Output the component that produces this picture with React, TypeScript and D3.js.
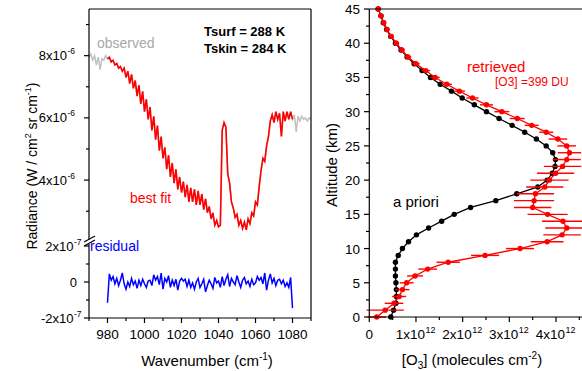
import React from 'react';
import * as d3 from 'd3';

const FONT = '"Liberation Sans", Arial, sans-serif';

// ---- left panel: spectrum (radiance in 1e-6 W/cm2 sr cm-1) ----
const wavenumber = d3.range(970, 1091);
const radiance = [
  7.95, 8.05, 7.85, 8.0, 7.7, 7.95, 7.55, 7.9, 7.85, 8.0,
  7.9, 7.95, 7.8, 7.85, 7.7, 7.75, 7.6, 7.65, 7.5, 7.6,
  7.3, 7.5, 7.1, 7.4, 6.95, 7.2, 6.7, 7.05, 6.45, 6.85,
  6.2, 6.6, 5.95, 6.35, 5.6, 6.05, 5.3, 5.75, 4.95, 5.4,
  4.7, 5.05, 4.35, 4.8, 4.1, 4.55, 3.9, 4.35, 3.7, 4.1,
  3.6, 3.95, 3.45, 3.85, 3.3, 3.75, 3.3, 3.7, 3.2, 3.65,
  3.2, 3.55, 3.05, 3.4, 2.95, 3.15, 2.75, 2.95, 2.55, 2.7,
  2.5, 2.55, 5.6, 5.85, 5.7, 4.2, 3.9, 3.3, 3.1, 2.8,
  2.9, 2.55, 2.7, 2.45, 2.65, 2.4, 2.75, 2.6, 2.95, 2.85,
  3.3, 3.2, 3.8, 4.3, 4.7, 4.6, 5.1, 5.4, 5.9, 6.1,
  5.85, 6.2, 5.95, 6.15, 5.4, 6.2, 5.9, 6.2, 5.95, 6.2,
  5.95, 6.1, 5.55, 6.05, 5.9, 6.05, 5.95, 6.0, 5.9, 6.0,
  5.95,
];
const fitRange = [980, 1080];

// residual in 1e-7 units
const residualWn = d3.range(980, 1081);
const residual = [
  -1.15, 0.45, 0.1, 0.3, -0.1, 0.2, -0.2, 0.1, 0.5, -0.1,
  -0.4, 0.0, -0.25, 0.2, -0.15, 0.05, -0.35, 0.1, -0.2, 0.15,
  -0.1, -0.3, 0.05, 0.1, -0.2, 0.4, 0.1, 0.3, -0.15, 0.5,
  -0.4, 0.2, 0.0, 0.35, -0.3, 0.1, -0.2, 0.15, -0.45, 0.05,
  0.2, 0.05, 0.15, -0.25, 0.1, -0.3, -0.05, -0.4, 0.0, 0.2,
  -0.3, -0.1, 0.15, -0.55, -0.2, 0.1, -0.1, -0.35, 0.25, -0.05,
  0.05, -0.3, 0.3, -0.2, 0.15, 0.4, -0.25, 0.2, 0.0, -0.15,
  0.35, 0.0, -0.3, 0.1, 0.25, -0.1, 0.05, -0.25, 0.15, -0.15,
  -0.05, 0.3, 0.1, 0.25, -0.1, 0.5, -0.45, 0.1, 0.45, -0.05,
  0.2, -0.2, 0.1, 0.15, -0.1, 0.1, -0.25, -0.05, -0.3, 0.25,
  -1.45,
];

const wnTicks = [980, 1000, 1020, 1040, 1060, 1080];
const wnMinor = [970, 990, 1010, 1030, 1050, 1070, 1090];
const radTicks = [4, 6, 8];
const radMinor = [3, 5, 7, 9];
const resTicks = [-2, 0, 2];
const resMinor = [-1, 1];

// ---- right panel: ozone profile (1e12 molecules cm-2) ----
const altitude = [
  0, 1, 2, 3, 4, 5, 6, 7, 8, 9, 10, 11, 12, 13, 14, 15, 16, 17, 18, 19, 20, 21, 22,
  23, 24, 25, 26, 27, 28, 29, 30, 31, 32, 33, 34, 35, 36, 37, 38, 39, 40, 41, 42, 43, 44, 45,
];
const apriori = [
  0.46, 0.52, 0.57, 0.58, 0.58, 0.57, 0.56, 0.56, 0.56, 0.62,
  0.71, 0.84, 1.01, 1.27, 1.55, 1.82, 2.17, 2.71, 3.16, 3.61,
  3.81, 3.92, 3.98, 3.99, 3.93, 3.79, 3.58, 3.33, 3.06, 2.78,
  2.51, 2.25, 1.99, 1.76, 1.52, 1.31, 1.13, 0.96, 0.81, 0.68,
  0.56, 0.46, 0.37, 0.30, 0.25, 0.19,
];
const retrieved = [
  0.16, 0.34, 0.53, 0.64, 0.71, 0.80, 0.98, 1.25, 1.69, 2.48,
  3.23, 3.81, 4.13, 4.23, 4.15, 3.82, 3.50, 3.53, 3.56, 3.76,
  3.86, 3.99, 4.14, 4.23, 4.29, 4.23, 4.04, 3.79, 3.48, 3.17,
  2.84, 2.51, 2.21, 1.93, 1.66, 1.41, 1.21, 1.00, 0.83, 0.70,
  0.58, 0.47, 0.38, 0.31, 0.25, 0.19,
];
const retrievedErr = [
  0.2, 0.4, 0.2, 0.15, 0.15, 0.15, 0.17, 0.2, 0.25, 0.3,
  0.3, 0.35, 0.4, 0.46, 0.45, 0.43, 0.4, 0.43, 0.4, 0.4,
  0.41, 0.4, 0.4, 0.3, 0.25, 0.2, 0.2, 0.15, 0.15, 0.16,
  0.16, 0.14, 0.13, 0.12, 0.11, 0.1, 0.09, 0.08, 0.07, 0.06,
  0.06, 0.05, 0.05, 0.04, 0.04, 0.03,
];
const altTicks = [0, 5, 10, 15, 20, 25, 30, 35, 40, 45];
const altMinor = [2.5, 7.5, 12.5, 17.5, 22.5, 27.5, 32.5, 37.5, 42.5];
const o3Ticks = [0, 1, 2, 3, 4];
const o3Minor = [0.5, 1.5, 2.5, 3.5, 4.5];

// "m x10^e" label: mantissa ends at xEnd, exponent starts right after it
const Sci = ({ xEnd, y, m, e, size = 13, supSize = 8.5 }: any) => (
  <g fontFamily={FONT} fill="#000">
    <text x={xEnd} y={y} textAnchor="end" fontSize={size}>{`${m}x10`}</text>
    <text x={xEnd + 0.5} y={y - 6} textAnchor="start" fontSize={supSize}>{e}</text>
  </g>
);

export default function App() {
  // left panel scales
  const xL = d3.scaleLinear().domain([970, 1090]).range([89, 311]);
  const yTop = d3.scaleLinear().domain([2.0, 9.5]).range([242.3, 9]);
  const yRes = d3.scaleLinear().domain([-2, 2]).range([318, 246]);

  // right panel scales
  const xR = d3.scaleLinear().domain([0, 4.6]).range([369.3, 584]);
  const yR = d3.scaleLinear().domain([0, 45]).range([317, 9]);

  const specLine = d3.line<number>().x((_, i) => xL(wavenumber[i])).y((d) => yTop(d));
  const fitIdx = wavenumber.map((w, i) => i).filter((i) => wavenumber[i] >= fitRange[0] && wavenumber[i] <= fitRange[1]);
  const fitLine = d3.line<number>().x((i) => xL(wavenumber[i])).y((i) => yTop(radiance[i]));
  const resLine = d3.line<number>().x((_, i) => xL(residualWn[i])).y((d) => yRes(d));

  const profLine = (vals: number[]) =>
    d3.line<number>().x((d) => xR(d)).y((_, i) => yR(altitude[i]))(vals) || '';

  const axisStroke = { stroke: '#000', strokeWidth: 1.2 };
  const bottomL = 318;
  const bottomR = yR(0);

  return (
    <svg width={582} height={371} style={{ position: 'absolute', left: 0, top: 0, background: '#fff' }}>
      <rect width={582} height={371} fill="#fff" />

      {/* ===== LEFT PANEL ===== */}
      <path d={specLine(radiance) || ''} fill="none" stroke="#c0c0c0" strokeWidth={1.5} />
      <path d={fitLine(fitIdx) || ''} fill="none" stroke="#ff0000" strokeWidth={1.6} />
      <path d={resLine(residual) || ''} fill="none" stroke="#0000ff" strokeWidth={1.5} />

      {/* frame */}
      <line x1={89} x2={311} y1={9} y2={9} {...axisStroke} />
      <line x1={311} x2={311} y1={9} y2={bottomL} {...axisStroke} />
      <line x1={89} x2={311} y1={bottomL} y2={bottomL} {...axisStroke} />
      <line x1={89} x2={89} y1={9} y2={239.5} {...axisStroke} />
      <line x1={89} x2={89} y1={244} y2={bottomL} {...axisStroke} />
      {/* axis break */}
      <line x1={84} x2={95} y1={242} y2={236} {...axisStroke} />
      <line x1={84} x2={95} y1={246} y2={240} {...axisStroke} />

      {/* x ticks */}
      {wnTicks.map((t) => (
        <g key={t}>
          <line x1={xL(t)} x2={xL(t)} y1={bottomL} y2={bottomL + 5} {...axisStroke} />
          <text x={xL(t)} y={339} textAnchor="middle" fontSize={13.5} fontFamily={FONT}>{t}</text>
        </g>
      ))}
      {wnMinor.map((t) => (
        <line key={t} x1={xL(t)} x2={xL(t)} y1={bottomL} y2={bottomL + 3} {...axisStroke} />
      ))}

      {/* upper y ticks */}
      {radTicks.map((t) => (
        <g key={t}>
          <line x1={84} x2={89} y1={yTop(t)} y2={yTop(t)} {...axisStroke} />
          <Sci xEnd={67} y={yTop(t) + 4.5} m={String(t)} e="-6" />
        </g>
      ))}
      {radMinor.map((t) => (
        <line key={t} x1={86} x2={89} y1={yTop(t)} y2={yTop(t)} {...axisStroke} />
      ))}
      {/* residual y ticks */}
      {resTicks.map((t) => (
        <g key={t}>
          <line x1={84} x2={89} y1={yRes(t)} y2={yRes(t)} {...axisStroke} />
          {t === 0 ? (
            <text x={77} y={yRes(t) + 4.5} textAnchor="end" fontSize={13} fontFamily={FONT}>0</text>
          ) : (
            <Sci xEnd={73.5} y={yRes(t) + 4.5} m={String(t)} e="-7" />
          )}
        </g>
      ))}
      {resMinor.map((t) => (
        <line key={t} x1={86} x2={89} y1={yRes(t)} y2={yRes(t)} {...axisStroke} />
      ))}

      {/* left labels */}
      <text x={97} y={48} fontSize={14} fontFamily={FONT} fill="#a8a8a8">observed</text>
      <text x={204} y={36} fontSize={13} fontWeight="bold" fontFamily={FONT}>Tsurf = 288 K</text>
      <text x={204} y={53} fontSize={13} fontWeight="bold" fontFamily={FONT}>Tskin = 284 K</text>
      <text x={130} y={203} fontSize={14} fontFamily={FONT} fill="#ff0000">best fit</text>
      <text x={90} y={251} fontSize={14} fontFamily={FONT} fill="#0000ff">residual</text>

      <text
        transform="translate(37,166) rotate(-90)"
        textAnchor="middle"
        fontSize={14}
        fontFamily={FONT}
      >
        Radiance (W / cm<tspan dy={-6} fontSize={9}>2</tspan>
        <tspan dy={6}> sr cm</tspan>
        <tspan dy={-6} fontSize={9}>-1</tspan>
        <tspan dy={6}>)</tspan>
      </text>
      <text x={207} y={366} textAnchor="middle" fontSize={15} fontFamily={FONT}>
        Wavenumber (cm<tspan dy={-6} fontSize={10}>-1</tspan>
        <tspan dy={6}>)</tspan>
      </text>

      {/* ===== RIGHT PANEL ===== */}
      {/* a priori */}
      <path d={profLine(apriori)} fill="none" stroke="#000" strokeWidth={1.3} />
      {apriori.map((v, i) => (
        <circle key={`a${i}`} cx={xR(v)} cy={yR(altitude[i])} r={2.7} fill="#000" />
      ))}
      {/* retrieved */}
      {retrieved.map((v, i) => (
        <line
          key={`e${i}`}
          x1={xR(v - retrievedErr[i])}
          x2={xR(v + retrievedErr[i])}
          y1={yR(altitude[i])}
          y2={yR(altitude[i])}
          stroke="#ff0000"
          strokeWidth={1.4}
        />
      ))}
      <path d={profLine(retrieved)} fill="none" stroke="#ff0000" strokeWidth={1.3} />
      {retrieved.map((v, i) => (
        <circle key={`r${i}`} cx={xR(v)} cy={yR(altitude[i])} r={2.7} fill="#ff0000" />
      ))}

      {/* frame */}
      <line x1={369.3} x2={582} y1={9} y2={9} {...axisStroke} />
      <line x1={369.3} x2={369.3} y1={9} y2={bottomR} {...axisStroke} />
      <line x1={369.3} x2={582} y1={bottomR} y2={bottomR} {...axisStroke} />

      {altTicks.map((t) => (
        <g key={t}>
          <line x1={364} x2={369.3} y1={yR(t)} y2={yR(t)} {...axisStroke} />
          <text x={360} y={yR(t) + 5} textAnchor="end" fontSize={13.5} fontFamily={FONT}>{t}</text>
        </g>
      ))}
      {altMinor.map((t) => (
        <line key={t} x1={366} x2={369.3} y1={yR(t)} y2={yR(t)} {...axisStroke} />
      ))}
      {o3Ticks.map((t) => (
        <g key={t}>
          <line x1={xR(t)} x2={xR(t)} y1={bottomR} y2={bottomR + 5} {...axisStroke} />
          {t === 0 ? (
            <text x={xR(t)} y={339} textAnchor="middle" fontSize={13.5} fontFamily={FONT}>0</text>
          ) : (
            <Sci xEnd={xR(t) + 9} y={339} m={String(t)} e="12" size={13.5} supSize={9} />
          )}
        </g>
      ))}
      {o3Minor.map((t) => (
        <line key={t} x1={xR(t)} x2={xR(t)} y1={bottomR} y2={bottomR + 3} {...axisStroke} />
      ))}

      <text x={467} y={72} fontSize={15} fontFamily={FONT} fill="#ff0000">retrieved</text>
      <text x={495} y={86} fontSize={12} fontFamily={FONT} fill="#ff0000">[O3] =399 DU</text>
      <text x={393} y={207} fontSize={15} fontFamily={FONT} fill="#000">a priori</text>

      <text transform="translate(337,165) rotate(-90)" textAnchor="middle" fontSize={15} fontFamily={FONT}>
        Altitude (km)
      </text>
      <text x={472} y={365} textAnchor="middle" fontSize={15} fontFamily={FONT}>
        [O<tspan dy={4} fontSize={10}>3</tspan>
        <tspan dy={-4}>] (molecules cm</tspan>
        <tspan dy={-6} fontSize={10}>-2</tspan>
        <tspan dy={6}>)</tspan>
      </text>
    </svg>
  );
}
